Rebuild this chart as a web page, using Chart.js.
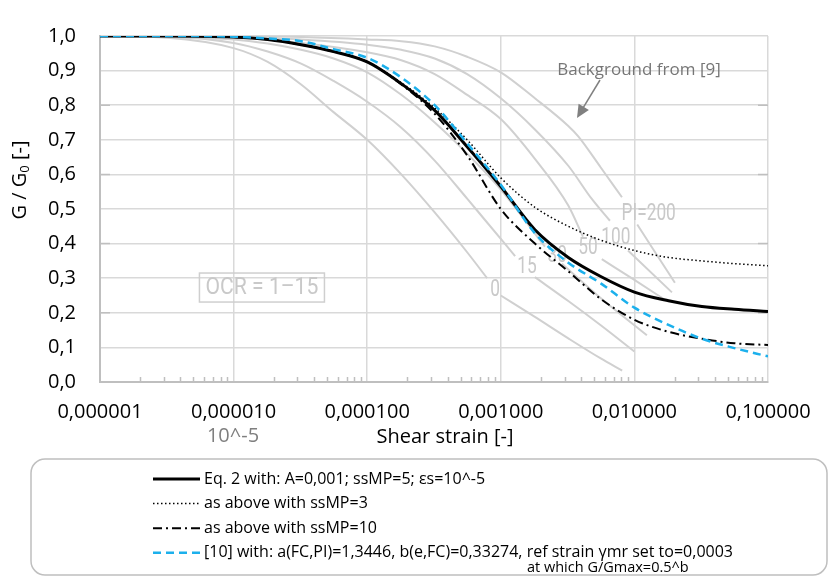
<!DOCTYPE html>
<html>
<head>
<meta charset="utf-8">
<title>G / G0 vs shear strain</title>
<script src="https://cdn.jsdelivr.net/npm/chart.js@4.4.1/dist/chart.umd.min.js"></script>
<style>
  html, body { margin: 0; padding: 0; background: #fff; }
  canvas { display: block; }
</style>
</head>
<body>
<canvas id="chart" width="830" height="578"></canvas>
<script>
// axis ticks
const xTickValues = [1e-6, 1e-5, 1e-4, 1e-3, 1e-2, 1e-1];
const xTickLabels = ['0,000001', '0,000010', '0,000100', '0,001000', '0,010000', '0,100000'];
const yTickValues = [0, 0.1, 0.2, 0.3, 0.4, 0.5, 0.6, 0.7, 0.8, 0.9, 1.0];
const yTickLabels = ['0,0', '0,1', '0,2', '0,3', '0,4', '0,5', '0,6', '0,7', '0,8', '0,9', '1,0'];

// model curves, all on the same strain steps
const strain = [1e-6, 3.2e-6, 1e-5, 1.8e-5, 3.2e-5, 5.6e-5, 1e-4, 1.8e-4, 3.2e-4, 5.6e-4,
                1e-3, 1.8e-3, 3.2e-3, 5.6e-3, 1e-2, 1.8e-2, 3.2e-2, 5.6e-2, 1e-1];
const eq2ssMP5 = [1.0, 1.0, 0.997, 0.99, 0.975, 0.955, 0.925, 0.862, 0.785, 0.68,
                  0.565, 0.44, 0.36, 0.305, 0.26, 0.235, 0.218, 0.21, 0.204];
const eq2ssMP3 = [1.0, 1.0, 0.997, 0.99, 0.975, 0.955, 0.925, 0.865, 0.792, 0.70,
                  0.59, 0.505, 0.45, 0.41, 0.38, 0.36, 0.35, 0.342, 0.336];
const eq2ssMP10 = [1.0, 1.0, 0.997, 0.99, 0.975, 0.955, 0.925, 0.86, 0.775, 0.655,
                   0.50, 0.40, 0.32, 0.24, 0.18, 0.145, 0.125, 0.112, 0.107];
const ref10 = [1.0, 1.0, 0.998, 0.993, 0.985, 0.962, 0.937, 0.88, 0.80, 0.69,
               0.57, 0.43, 0.345, 0.285, 0.215, 0.165, 0.125, 0.098, 0.074];

const seriesNames = [
  'Eq. 2 with: A=0,001; ssMP=5; εs=10^-5',
  'as above with ssMP=3',
  'as above with ssMP=10',
  '[10] with: a(FC,PI)=1,3446, b(e,FC)=0,33274, ref strain γmr set to=0,0003'
];

// background curves from [9]; null leaves the gap where the PI label sits
const pi0Strain = [1e-6, 3.2e-6, 1e-5, 1.8e-5, 3.2e-5, 5.6e-5, 1e-4, 1.8e-4, 3.2e-4, 5.6e-4, 7.9e-4, 8.9e-4, 1e-3, 1.8e-3, 3.2e-3, 5.6e-3, 8.1e-3];
const pi0G      = [1.0, 0.995, 0.965, 0.925, 0.86, 0.78, 0.70, 0.60, 0.49, 0.375, 0.30, null, 0.25, 0.188, 0.126, 0.068, 0.033];
const pi15Strain = [1e-6, 3.2e-6, 1e-5, 1.8e-5, 3.2e-5, 5.6e-5, 1e-4, 1.8e-4, 3.2e-4, 5.6e-4, 7.4e-4, 1.28e-3, 1.5e-3, 1.8e-3, 3.2e-3, 5.6e-3, 1e-2];
const pi15G      = [1.0, 0.998, 0.98, 0.955, 0.92, 0.87, 0.81, 0.735, 0.64, 0.53, 0.474, 0.364, null, 0.303, 0.234, 0.164, 0.088];
const pi30Strain = [1e-6, 1e-5, 1.8e-5, 3.2e-5, 5.6e-5, 1e-4, 1.8e-4, 3.2e-4, 5.6e-4, 1e-3, 2.14e-3, 2.5e-3, 2.87e-3, 5.5e-3, 1.24e-2];
const pi30G      = [1.0, 0.99, 0.978, 0.96, 0.935, 0.895, 0.83, 0.75, 0.66, 0.556, 0.391, null, 0.342, 0.245, 0.135];
const pi50Strain = [1e-6, 1e-5, 3.2e-5, 1e-4, 1.8e-4, 3.2e-4, 5.6e-4, 1e-3, 1.8e-3, 3.2e-3, 4.12e-3, 5e-3, 5.7e-3, 1e-2, 1.75e-2];
const pi50G      = [1.0, 0.995, 0.98, 0.953, 0.93, 0.89, 0.83, 0.76, 0.645, 0.51, 0.42, null, 0.355, 0.295, 0.234];
const pi100Strain = [1e-6, 1e-5, 3.2e-5, 1e-4, 1.8e-4, 3.2e-4, 5.6e-4, 1e-3, 1.8e-3, 3.2e-3, 4.8e-3, 6.56e-3, 7.7e-3, 8.95e-3, 1.91e-2];
const pi100G      = [1.0, 0.998, 0.99, 0.975, 0.96, 0.935, 0.89, 0.82, 0.73, 0.625, 0.529, 0.466, null, 0.38, 0.259];
const pi200Strain = [1e-6, 1e-5, 3.2e-5, 1e-4, 1.8e-4, 3.2e-4, 5.6e-4, 1e-3, 1.8e-3, 3.2e-3, 3.8e-3, 5.6e-3, 8.07e-3, 9.2e-3, 1.05e-2, 2.01e-2];
const pi200G      = [1.0, 1.0, 0.997, 0.99, 0.985, 0.97, 0.94, 0.895, 0.82, 0.74, 0.71, 0.62, 0.534, null, 0.455, 0.287];

// PI labels, anchored at (strain, G)
const piLabels = ['0', '15', '30', '50', '100', 'PI=200'];
const piLabelStrain = [9.06e-4, 1.57e-3, 2.64e-3, 4.5e-3, 7.27e-3, 1.28e-2];
const piLabelG = [0.267, 0.333, 0.364, 0.388, 0.416, 0.485];

const GRID = '#d9d9d9';
const AXIS = '#bfbfbf';
const BG_CURVE = '#d0d0d0';
const LABEL_GREY = '#c9c9c9';

const pts = (xs, ys) => xs.map((x, i) => ({ x, y: ys[i] }));

function bgCurve(xs, ys) {
  return {
    data: pts(xs, ys),
    borderColor: BG_CURVE,
    borderWidth: 2,
    showLine: true,
    spanGaps: false,
    cubicInterpolationMode: 'monotone',
    order: 10
  };
}

function squash(ctx, text, x, y, sx) {
  ctx.save();
  ctx.translate(x, y);
  ctx.scale(sx, 1);
  ctx.fillText(text, 0, 0);
  ctx.restore();
}

function roundRectPath(ctx, x, y, w, h, r) {
  ctx.beginPath();
  ctx.moveTo(x + r, y);
  ctx.arcTo(x + w, y, x + w, y + h, r);
  ctx.arcTo(x + w, y + h, x, y + h, r);
  ctx.arcTo(x, y + h, x, y, r);
  ctx.arcTo(x, y, x + w, y, r);
  ctx.closePath();
}

const decorations = {
  id: 'decorations',
  beforeDatasetsDraw(chart) {
    const { ctx, chartArea: a, scales: { x, y } } = chart;
    ctx.save();

    // minor ticks on the log axis + short marks at the even tenths
    ctx.strokeStyle = AXIS;
    ctx.lineWidth = 1.5;
    ctx.beginPath();
    for (let d = 1e-6; d < 0.09; d *= 10) {
      for (let k = 2; k <= 9; k++) {
        const px = Math.round(x.getPixelForValue(k * d)) + 0.5;
        ctx.moveTo(px, a.bottom);
        ctx.lineTo(px, a.bottom - 5);
      }
    }
    [0.2, 0.4, 0.6, 0.8].forEach(v => {
      const py = y.getPixelForValue(v);
      ctx.moveTo(a.left, py); ctx.lineTo(a.left + 10, py);
      ctx.moveTo(a.right - 10, py); ctx.lineTo(a.right, py);
    });
    ctx.stroke();

    // PI labels of the background curves
    ctx.fillStyle = LABEL_GREY;
    ctx.font = '24px Roboto';
    ctx.textAlign = 'center';
    ctx.textBaseline = 'middle';
    piLabels.forEach((t, i) => {
      squash(ctx, t, x.getPixelForValue(piLabelStrain[i]), y.getPixelForValue(piLabelG[i]), 0.72);
    });

    // OCR box
    const ox = x.getPixelForValue(1.63e-5), oy = y.getPixelForValue(0.273);
    squash(ctx, 'OCR = 1–15', ox, oy, 0.88);
    ctx.strokeStyle = '#cfcfcf';
    ctx.lineWidth = 1.5;
    ctx.strokeRect(ox - 62.5, oy - 14.5, 125, 29);
    ctx.restore();
  },
  afterDraw(chart) {
    const { ctx } = chart;
    ctx.save();

    // y title with subscript
    ctx.translate(20, 180);
    ctx.rotate(-Math.PI / 2);
    ctx.fillStyle = '#000';
    ctx.textBaseline = 'middle';
    ctx.textAlign = 'left';
    const big = '20px "Open Sans"', small = '13px "Open Sans"';
    ctx.font = big;
    const w1 = ctx.measureText('G / G').width, w3 = ctx.measureText(' [-]').width;
    ctx.font = small;
    const w2 = ctx.measureText('0').width;
    let cx = -(w1 + w2 + w3) / 2;
    ctx.font = big; ctx.fillText('G / G', cx, 0); cx += w1;
    ctx.font = small; ctx.fillText('0', cx, 5); cx += w2;
    ctx.font = big; ctx.fillText(' [-]', cx, 0);
    ctx.restore();

    ctx.save();
    ctx.textAlign = 'center';
    ctx.textBaseline = 'middle';
    ctx.font = '20px "Open Sans"';
    ctx.fillStyle = '#000';
    ctx.fillText('Shear strain [-]', 445, 437);
    ctx.fillStyle = '#7f7f7f';
    ctx.fillText('10^-5', 233, 436);

    // note + arrow
    ctx.font = '17px "Open Sans"';
    ctx.fillStyle = '#767676';
    ctx.fillText('Background from [9]', 639, 70);
    ctx.strokeStyle = '#808080';
    ctx.fillStyle = '#808080';
    ctx.lineWidth = 1.5;
    const x0 = 600, y0 = 80, x1 = 577, y1 = 118;
    const ang = Math.atan2(y1 - y0, x1 - x0);
    ctx.beginPath();
    ctx.moveTo(x0, y0);
    ctx.lineTo(x1 - 10 * Math.cos(ang), y1 - 10 * Math.sin(ang));
    ctx.stroke();
    ctx.beginPath();
    ctx.moveTo(x1, y1);
    ctx.lineTo(x1 - 13 * Math.cos(ang) + 6 * Math.sin(ang), y1 - 13 * Math.sin(ang) - 6 * Math.cos(ang));
    ctx.lineTo(x1 - 13 * Math.cos(ang) - 6 * Math.sin(ang), y1 - 13 * Math.sin(ang) + 6 * Math.cos(ang));
    ctx.closePath();
    ctx.fill();

    // legend box
    ctx.strokeStyle = AXIS;
    ctx.lineWidth = 1.5;
    roundRectPath(ctx, 31, 459, 796, 116, 14);
    ctx.stroke();

    ctx.textAlign = 'left';
    ctx.font = '16px "Open Sans"';
    chart.data.datasets.filter(d => d.inLegend).forEach((ds, i) => {
      const ly = 479 + i * 24.6;
      ctx.save();
      ctx.strokeStyle = ds.borderColor;
      ctx.lineWidth = ds.borderWidth;
      ctx.setLineDash(ds.borderDash || []);
      ctx.beginPath();
      ctx.moveTo(153, ly);
      ctx.lineTo(200, ly);
      ctx.stroke();
      ctx.restore();
      ctx.fillStyle = '#000';
      ctx.fillText(ds.label, 204, ly);
    });
    ctx.font = '14.5px "Open Sans"';
    ctx.fillText('at which G/Gmax=0.5^b', 527, 568);
    ctx.restore();
  }
};

new Chart(document.getElementById('chart'), {
  type: 'scatter',
  data: {
    datasets: [
      { label: seriesNames[0], data: pts(strain, eq2ssMP5), borderColor: '#000', borderWidth: 3,
        showLine: true, cubicInterpolationMode: 'monotone', order: 1, inLegend: true },
      { label: seriesNames[1], data: pts(strain, eq2ssMP3), borderColor: '#000', borderWidth: 1.5,
        borderDash: [1.5, 2.5], showLine: true, cubicInterpolationMode: 'monotone', order: 2, inLegend: true },
      { label: seriesNames[2], data: pts(strain, eq2ssMP10), borderColor: '#000', borderWidth: 2,
        borderDash: [9, 4, 2, 4], showLine: true, cubicInterpolationMode: 'monotone', order: 3, inLegend: true },
      { label: seriesNames[3], data: pts(strain, ref10), borderColor: '#1cb0ec', borderWidth: 2.5,
        borderDash: [8, 5], showLine: true, cubicInterpolationMode: 'monotone', order: 0, inLegend: true },
      bgCurve(pi0Strain, pi0G),
      bgCurve(pi15Strain, pi15G),
      bgCurve(pi30Strain, pi30G),
      bgCurve(pi50Strain, pi50G),
      bgCurve(pi100Strain, pi100G),
      bgCurve(pi200Strain, pi200G)
    ]
  },
  options: {
    responsive: false,
    animation: false,
    events: [],
    layout: { padding: { left: 0, right: 62, top: 19, bottom: 126 } },
    elements: { point: { radius: 0, hoverRadius: 0 } },
    plugins: { legend: { display: false }, tooltip: { enabled: false } },
    scales: {
      x: {
        type: 'logarithmic',
        min: 1e-6,
        max: 1e-1,
        afterBuildTicks: s => { s.ticks = xTickValues.map(v => ({ value: v })); },
        afterFit: s => { s.height = 70; },
        ticks: {
          autoSkip: false,
          maxRotation: 0,
          padding: 18,
          color: '#000',
          font: { family: 'Open Sans', size: 20 },
          callback: (v, i) => xTickLabels[i]
        },
        grid: { color: GRID, lineWidth: 1.5, drawTicks: false },
        border: { color: AXIS, width: 2 }
      },
      y: {
        min: 0,
        max: 1,
        afterBuildTicks: s => { s.ticks = yTickValues.map(v => ({ value: v })); },
        afterFit: s => { s.width = 100; },
        ticks: {
          padding: 24,
          color: '#000',
          font: { family: 'Open Sans', size: 20 },
          callback: (v, i) => yTickLabels[i]
        },
        grid: { color: GRID, lineWidth: 1.5, drawTicks: false },
        border: { color: AXIS, width: 2 }
      }
    }
  },
  plugins: [decorations]
});
</script>
</body>
</html>
